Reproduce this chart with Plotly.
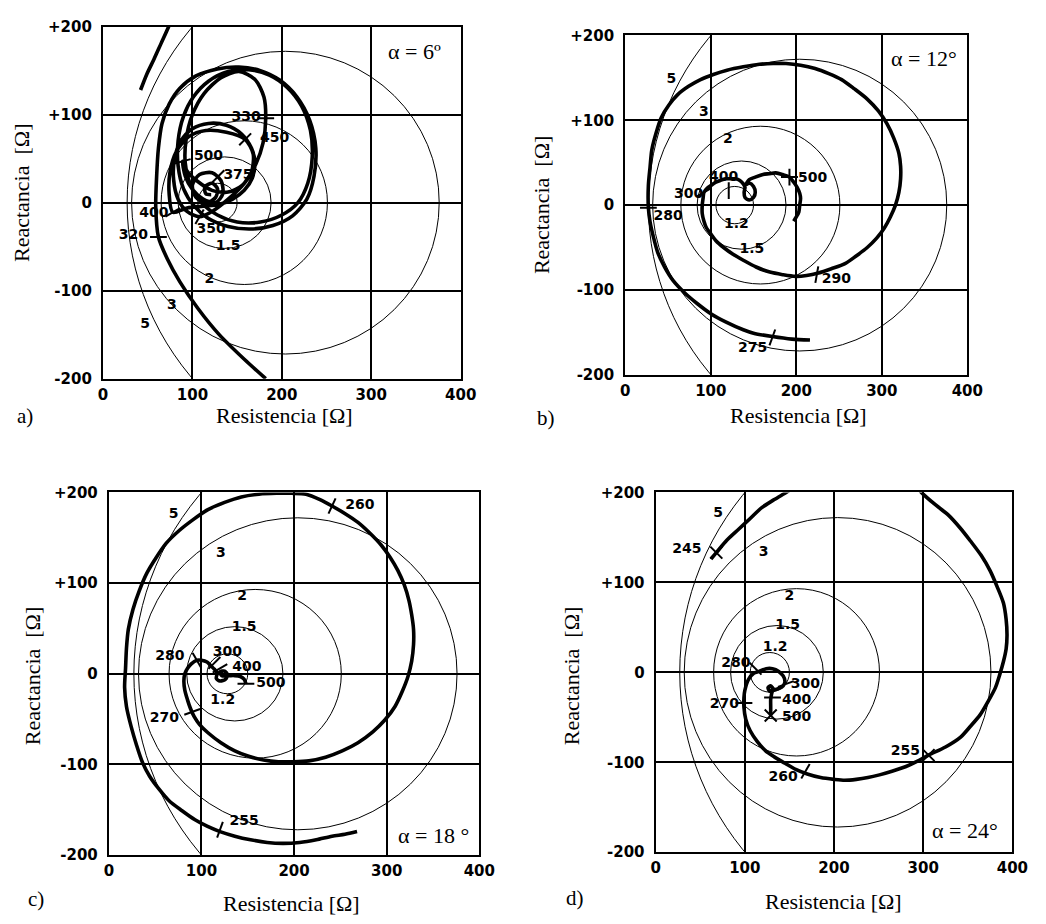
import plotly.graph_objects as go

W, H = 1046, 924

# ---------------- constant-ratio circles (same family in every panel) ----------
circle_labels = ["1.2", "1.5", "2", "3", "5"]
circle_cx = [128, 136, 158, 204, 337]
circle_r = [22, 52, 93, 172, 310]

# ---------------- panel a) alpha = 6 deg ----------------
a_curve_x = [182, 158, 130, 106, 86, 72, 62, 59, 60, 62, 66, 74, 86, 104, 128, 152, 176, 198, 217, 231, 238, 236,
             228, 212, 190, 165, 140, 118, 102, 90, 84, 84, 90, 101, 118, 140, 163, 186, 206, 222, 232, 234, 229,
             218, 200, 176, 150, 128, 110, 98, 92, 93, 100, 113, 132, 152, 170, 180, 182, 179, 171, 158, 140, 122,
             108, 94, 84, 79, 80, 87, 100, 118, 138, 155, 166, 170, 167, 158, 145, 130, 112, 94, 78, 74, 75, 82, 96,
             115, 138, 159, 168, 166, 156, 140, 122, 106, 94, 89, 92, 100, 112, 126, 134, 132, 122, 108, 100, 104,
             116, 126, 128, 122, 114, 115, 121,
             None, 42, 49, 57, 65, 73, 78]
a_curve_y = [-200, -178, -150, -120, -90, -64, -39, -5, 30, 62, 90, 112, 130, 144, 152, 154, 150, 139, 120, 94, 62,
             30, 4, -15, -26, -30, -27, -18, -4, 16, 42, 70, 98, 120, 138, 149, 151, 145, 131, 110, 82, 52, 22, 0,
             -14, -22, -22, -14, 0, 20, 45, 72, 100, 124, 142, 149, 140, 120, 96, 68, 44, 22, 4, -10, -16, -10, 4,
             26, 50, 70, 84, 90, 88, 78, 62, 45, 28, 14, 4, -2, -4, -6, -11, 10, 35, 58, 75, 82, 80, 72, 55, 35, 20,
             12, 14, 24, 36, 47, 30, 15, 4, 0, 10, 25, 34, 32, 20, 6, 0, 6, 16, 22, 18, 10, 9,
             None, 128, 146, 163, 181, 199, 212]
a_time_labels = ["320", "330", "350", "375", "400", "450", "500"]
a_time_lx = [34, 160, 121, 151, 57, 192, 118]
a_time_ly = [-37, 97, -31, 31, -12, 73, 52]
a_tick_x = [62, 182, 108, 129, 78, 159, 89]
a_tick_y = [-39, 96, -16, 30, -11, 72, 47]
a_tick_ang = [90, 90, 30, 45, 60, 45, 75]
a_tick_sym = ["line-ns"] * 7
a_circ_lab = ["1.5", "2", "3", "5"]
a_circ_lx = [140, 119, 77, 47]
a_circ_ly = [-50, -87, -117, -138]

# ---------------- panel b) alpha = 12 deg ----------------
b_curve_x = [216, 195, 172, 150, 138, 118, 100, 84, 69, 56, 46, 38, 33, 29, 27, 27, 29, 31, 36, 42, 51, 61, 74, 88,
             103, 119, 138, 157, 173, 188, 205, 222, 238, 253, 268, 283, 296, 306, 314, 320, 322, 322, 320, 316, 310,
             303, 294, 283, 270, 257, 241, 226, 212, 199, 184, 169, 153, 138, 126, 115, 106, 100, 95, 92, 90, 90, 91,
             92, 96, 100, 106, 111, 117, 123, 129, 134, 138, 140, 139, 140, 145, 150, 152, 150, 145, 141, 145, 152,
             161, 168, 176, 184, 192, 197, 201, 204, 205, 204, 203, 200, 197]
b_curve_y = [-159, -158, -155, -151, -147, -138, -128, -116, -103, -89, -73, -56, -38, -20, -3, 23, 45, 65, 85, 103,
             118, 130, 140, 148, 154, 159, 163, 166, 167, 167, 165, 161, 155, 148, 137, 125, 111, 96, 79, 61, 46, 31,
             15, 0, -14, -27, -39, -50, -60, -69, -75, -80, -83, -84, -82, -79, -73, -65, -58, -50, -42, -34, -27,
             -19, -10, 0, 8, 15, 20, 23, 27, 29, 31, 31, 31, 29, 25, 21, 15, 9, 6, 9, 15, 22, 26, 24, 30, 33, 36,
             37, 38, 36, 33, 27, 21, 14, 8, 0, -8, -14, -19]
b_time_labels = ["275", "280", "290", "300", "400", "500"]
b_time_lx = [149, 50, 247, 74, 115, 219]
b_time_ly = [-169, -13, -88, 13, 32, 31]
b_tick_x = [172, 27, 224, 92, 121, 192]
b_tick_y = [-156, -3, -82, 15, 17, 33]
b_tick_ang = [20, 90, 10, 60, 0, 45]
b_tick_sym = ["line-ns", "line-ns", "line-ns", "line-ns", "line-ns", "x-thin"]
b_circ_lab = ["1.2", "1.5", "2", "3", "5"]
b_circ_lx = [130, 148, 120, 92, 54]
b_circ_ly = [-23, -52, 77, 109, 148]

# ---------------- panel c) alpha = 18 deg ----------------
c_curve_x = [268, 255, 241, 224, 206, 188, 171, 153, 136, 120, 106, 93, 79, 65, 54, 44, 36, 30, 24, 19, 17, 18, 19,
             21, 26, 33, 41, 51, 62, 76, 91, 107, 125, 143, 162, 181, 197, 213, 228, 241, 256, 269, 282, 294, 304,
             312, 319, 324, 327, 329, 329, 327, 323, 317, 309, 298, 285, 269, 252, 234, 216, 199, 183, 167, 151, 136,
             121, 107, 98, 92, 88, 85, 82, 81, 82, 85, 89, 95, 100, 106, 110, 114, 117, 116, 120, 126, 128, 125, 120,
             122, 130, 136, 142, 146, 148]
c_curve_y = [-174, -177, -179, -183, -186, -187, -186, -183, -179, -174, -168, -161, -151, -140, -127, -113, -97,
             -79, -58, -36, -15, 6, 28, 49, 71, 92, 111, 128, 144, 158, 170, 181, 189, 195, 198, 199, 199, 198, 192,
             185, 176, 167, 155, 142, 128, 114, 98, 81, 65, 49, 32, 14, -3, -19, -36, -51, -64, -76, -85, -92, -96,
             -97, -97, -95, -91, -85, -76, -65, -56, -47, -38, -29, -18, -8, 0, 6, 11, 15, 15, 13, 9, 5, 1, -5, -8,
             -6, -1, 3, 2, -2, -2, -2, -3, -6, -11]
c_time_labels = ["255", "260", "270", "280", "300", "400", "500"]
c_time_lx = [146, 271, 60, 66, 128, 149, 175]
c_time_ly = [-163, 185, -49, 19, 24, 7, -11]
c_tick_x = [120, 241, 90, 95, 114, 120, 148]
c_tick_y = [-172, 185, -42, 15, 12, 6, -11]
c_tick_ang = [20, 25, 70, -30, 45, 60, 90]
c_tick_sym = ["line-ns"] * 7
c_circ_lab = ["1.2", "1.5", "2", "3", "5"]
c_circ_lx = [123, 146, 144, 121, 70]
c_circ_ly = [-29, 51, 85, 133, 176]

# ---------------- panel d) alpha = 24 deg ----------------
d_curve_x = [62, 68, 80, 93, 106, 119, 133, 148, 165, 185, 210, 240, 268, 290, 298, 314, 328, 341, 353, 365, 375,
             383, 390, 393, 394, 393, 390, 386, 381, 373, 364, 353, 342, 325, 306, 293, 280, 265, 251, 238, 225, 212,
             200, 185, 170, 157, 145, 133, 123, 114, 106, 101, 99, 99, 100, 104, 110, 116, 124, 131, 138, 143, 145,
             143, 138, 133, 129, 126, 128, 131, 130, 129, 129, 129, 129]
d_curve_y = [126, 133, 147, 159, 171, 183, 192, 201, 212, 222, 230, 232, 225, 210, 200, 186, 175, 161, 146, 130,
             113, 95, 77, 59, 41, 26, 12, -2, -17, -32, -47, -60, -72, -83, -92, -99, -105, -110, -114, -117, -119,
             -120, -119, -117, -113, -108, -101, -94, -87, -77, -65, -52, -39, -28, -20, -8, -1, 1, 4, 4, 1, -4, -10,
             -15, -18, -19, -15, -17, -21, -19, -24, -30, -38, -44, -48]
d_time_labels = ["245", "255", "260", "270", "280", "300", "400", "500"]
d_time_lx = [35, 280, 143, 77, 90, 168, 158, 158]
d_time_ly = [137, -88, -117, -36, 10, -14, -31, -50]
d_tick_x = [68, 306, 168, 99, 112, 146, 131, 129]
d_tick_y = [133, -92, -110, -34, 4, -13, -28, -48]
d_tick_ang = [0, 0, 30, 90, -45, 70, 90, 0]
d_tick_sym = ["x-thin", "x-thin", "line-ns", "line-ns", "line-ns", "line-ns", "line-ns", "x-thin"]
d_circ_lab = ["1.2", "1.5", "2", "3", "5"]
d_circ_lx = [134, 148, 150, 121, 70]
d_circ_ly = [28, 52, 84, 133, 177]

# ---------------- axes ----------------
x_ticks = [0, 100, 200, 300, 400]
x_ticktext = ["0", "100", "200", "300", "400"]
y_ticks = [-200, -100, 0, 100, 200]
y_ticktext = ["-200", "-100", "0", "+100", "+200"]

panels = [
    dict(cx=a_curve_x, cy=a_curve_y, tl=a_time_labels, tlx=a_time_lx, tly=a_time_ly, tx=a_tick_x, ty=a_tick_y,
         ta=a_tick_ang, ts=a_tick_sym, cl=a_circ_lab, clx=a_circ_lx, cly=a_circ_ly),
    dict(cx=b_curve_x, cy=b_curve_y, tl=b_time_labels, tlx=b_time_lx, tly=b_time_ly, tx=b_tick_x, ty=b_tick_y,
         ta=b_tick_ang, ts=b_tick_sym, cl=b_circ_lab, clx=b_circ_lx, cly=b_circ_ly),
    dict(cx=c_curve_x, cy=c_curve_y, tl=c_time_labels, tlx=c_time_lx, tly=c_time_ly, tx=c_tick_x, ty=c_tick_y,
         ta=c_tick_ang, ts=c_tick_sym, cl=c_circ_lab, clx=c_circ_lx, cly=c_circ_ly),
    dict(cx=d_curve_x, cy=d_curve_y, tl=d_time_labels, tlx=d_time_lx, tly=d_time_ly, tx=d_tick_x, ty=d_tick_y,
         ta=d_tick_ang, ts=d_tick_sym, cl=d_circ_lab, clx=d_circ_lx, cly=d_circ_ly),
]

# plot-area pixel boxes (left, right, top, bottom)
boxes = [(100, 465, 18, 377), (633, 982, 27, 373), (106, 484, 493, 863), (664, 1028, 493, 860)]

fig = go.Figure()
bold = dict(family="DejaVu Sans", size=14, color="black", weight="bold")

for i, p in enumerate(panels):
    n = "" if i == 0 else str(i + 1)
    xa, ya = "x" + n, "y" + n
    for k in range(len(circle_cx)):
        fig.add_shape(type="circle", xref=xa, yref=ya,
                      x0=circle_cx[k] - circle_r[k], x1=circle_cx[k] + circle_r[k],
                      y0=-circle_r[k], y1=circle_r[k],
                      line=dict(color="black", width=1), layer="above")
    fig.add_trace(go.Scatter(x=p["cx"], y=p["cy"], mode="lines", xaxis=xa, yaxis=ya,
                             line=dict(color="black", width=3.6, shape="spline", smoothing=0.8),
                             connectgaps=False, hoverinfo="skip", showlegend=False))
    fig.add_trace(go.Scatter(x=p["tx"], y=p["ty"], mode="markers", xaxis=xa, yaxis=ya,
                             marker=dict(symbol=p["ts"], angle=p["ta"], size=12, color="black",
                                         line=dict(color="black", width=2)),
                             hoverinfo="skip", showlegend=False))
    fig.add_trace(go.Scatter(x=p["tlx"], y=p["tly"], mode="text", text=p["tl"], xaxis=xa, yaxis=ya,
                             textfont=bold, textposition="middle center", cliponaxis=False,
                             hoverinfo="skip", showlegend=False))
    fig.add_trace(go.Scatter(x=p["clx"], y=p["cly"], mode="text", text=p["cl"], xaxis=xa, yaxis=ya,
                             textfont=bold, textposition="middle center", cliponaxis=False,
                             hoverinfo="skip", showlegend=False))

    l, r, t, b = boxes[i]
    axis_common = dict(showgrid=True, gridcolor="black", gridwidth=1.6, zeroline=False,
                       showline=True, linecolor="black", linewidth=2.2, mirror=True, ticks="",
                       tickfont=dict(family="DejaVu Sans", size=15, color="black", weight="bold"))
    fig.layout["xaxis" + n] = dict(domain=[l / W, r / W], range=[0, 400], anchor=ya,
                                   tickvals=x_ticks, ticktext=x_ticktext, ticklabelstandoff=1, **axis_common)
    fig.layout["yaxis" + n] = dict(domain=[1 - b / H, 1 - t / H], range=[-200, 200], anchor=xa,
                                   tickvals=y_ticks, ticktext=y_ticktext, ticklabelstandoff=6, **axis_common)

serif = "Liberation Serif"
ann = []
letters = ["a)", "b)", "c)", "d)"]
letter_pos = [(20, 415), (552, 417), (32, 908), (582, 907)]
xtitle_pos = [(285, 415), (810, 415), (292, 912), (845, 910)]
ytitle_pos = [(17, 187), (547, 200), (28, 680), (578, 680)]
alpha_text = ["α = 6º", "α = 12°", "α = 18 °", "α = 24°"]
alpha_pos = [(418, 43), (938, 50), (437, 843), (980, 838)]
for i in range(4):
    common = dict(xref="paper", yref="paper", showarrow=False, xanchor="center", yanchor="middle")
    ann.append(dict(text=letters[i], x=letter_pos[i][0] / W, y=1 - letter_pos[i][1] / H,
                    font=dict(family=serif, size=21, color="black"), **common))
    ann.append(dict(text="Resistencia [Ω]", x=xtitle_pos[i][0] / W, y=1 - xtitle_pos[i][1] / H,
                    font=dict(family=serif, size=22, color="black"), **common))
    ann.append(dict(text="Reactancia  [Ω]", x=ytitle_pos[i][0] / W, y=1 - ytitle_pos[i][1] / H, textangle=-90,
                    font=dict(family=serif, size=22, color="black"), **common))
    ann.append(dict(text=alpha_text[i], x=alpha_pos[i][0] / W, y=1 - alpha_pos[i][1] / H, bgcolor="white",
                    font=dict(family=serif, size=22, color="black"), **common))

fig.update_layout(width=W, height=H, margin=dict(l=0, r=0, t=0, b=0), plot_bgcolor="white",
                  paper_bgcolor="white", annotations=ann, showlegend=False)

fig.write_html("out.html")
